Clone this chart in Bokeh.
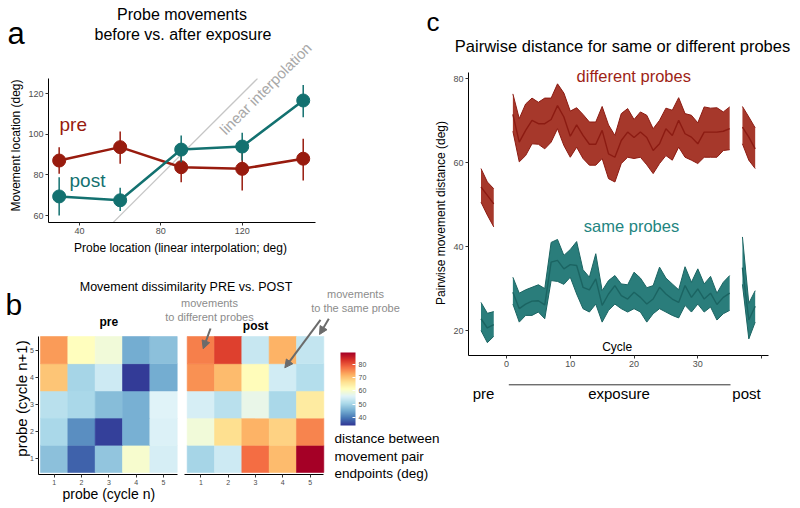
from bokeh.plotting import figure
from bokeh.models import (Label, Arrow, NormalHead, ColorBar, LinearColorMapper, LinearAxis,
                          FixedTicker, ColumnDataSource, Range1d, CustomJSTickFormatter)
from bokeh.embed import file_html
from bokeh.resources import INLINE

FONT = "Liberation Sans"
RED = "#981b0e"
TEAL = "#137170"

# ---------------- panel a data ----------------
probe_loc = [30, 60, 90, 120, 150]
pre_mean = [87.1, 93.7, 83.8, 83.0, 88.0]
pre_lo = [80.6, 85.5, 76.4, 72.3, 77.3]
pre_hi = [93.7, 101.4, 91.0, 91.2, 97.8]
post_mean = [69.4, 67.5, 92.5, 94.0, 116.7]
post_lo = [60.0, 62.2, 86.3, 87.1, 108.5]
post_hi = [78.9, 73.7, 99.4, 100.8, 124.4]
identity_xy = [56.6, 127.5]
a_xticks = [40, 80, 120]
a_yticks = [60, 80, 100, 120]

# ---------------- panel b data ----------------
probes = [1, 2, 3, 4, 5]
# rows: probe (cycle n+1) = 1..5 ; columns: probe (cycle n) = 1..5
pre_dist = [
    [47.5, 38.0, 48.0, 60.0, 55.0],
    [50.5, 42.0, 35.0, 45.5, 55.5],
    [52.0, 50.5, 47.0, 45.5, 56.0],
    [70.0, 50.0, 54.0, 34.5, 45.0],
    [74.0, 61.5, 59.0, 45.0, 47.5],
]
post_dist = [
    [50.0, 54.0, 78.0, 71.0, 89.0],
    [59.0, 67.0, 72.0, 68.5, 76.0],
    [55.0, 52.0, 57.5, 50.5, 65.0],
    [75.0, 71.0, 62.0, 54.5, 51.5],
    [76.5, 82.0, 53.5, 72.0, 53.0],
]
dist_low, dist_high = 34, 89
cbar_ticks = [40, 50, 60, 70, 80]

# ---------------- panel c data ----------------
pre_cycles = [-4, -3, -2]
exp_cycles = list(range(1, 36))
post_cycles = [37, 38, 39]
c_xticks = [0, 10, 20, 30, 40]
c_yticks = [20, 40, 60, 80]

diff_pre_hi = [58.6, 55.4, 53.8]
diff_pre_mean = [54.2, 52.2, 50.2]
diff_pre_lo = [50.6, 47.5, 44.7]
diff_exp_hi = [76.4, 70.5, 74.0, 75.4, 74.4, 75.4, 75.4, 78.8, 76.6, 72.3, 73.1, 71.5, 69.7, 69.7, 73.4,
               69.0, 66.5, 71.7, 72.9, 70.3, 72.1, 71.3, 68.1, 70.1, 73.0, 72.5, 75.5, 71.7, 71.3, 69.5,
               73.3, 73.0, 73.1, 72.1, 73.3]
diff_exp_mean = [71.5, 64.9, 67.7, 70.1, 69.3, 69.3, 70.3, 73.6, 70.9, 66.3, 69.0, 66.5, 64.4, 64.4, 67.7,
                 62.1, 61.3, 65.3, 67.3, 66.0, 67.3, 66.0, 62.9, 64.5, 68.1, 66.5, 70.1, 66.9, 66.1, 64.5,
                 67.3, 67.3, 67.3, 67.5, 68.1]
diff_exp_lo = [67.5, 60.2, 61.7, 64.5, 64.4, 63.3, 64.9, 68.1, 64.1, 61.3, 63.7, 61.0, 59.4, 59.4, 61.0,
               56.2, 55.4, 59.8, 61.3, 61.0, 61.3, 59.5, 57.4, 59.8, 61.7, 60.6, 63.7, 61.3, 60.6, 59.8,
               61.3, 61.3, 61.3, 62.9, 63.1]
diff_post_hi = [73.4, 70.9, 68.3]
diff_post_mean = [68.5, 66.1, 63.3]
diff_post_lo = [64.5, 60.6, 58.6]

same_pre_hi = [26.7, 24.1, 24.5]
same_pre_mean = [22.8, 20.6, 21.4]
same_pre_lo = [20.0, 17.1, 18.6]
same_exp_hi = [32.7, 28.9, 29.7, 30.3, 30.9, 30.0, 41.0, 41.7, 37.9, 39.3, 41.2, 34.5, 32.7, 38.3, 29.5,
               31.9, 33.1, 31.1, 30.9, 33.9, 32.5, 30.2, 30.7, 35.1, 32.5, 31.1, 29.7, 35.2, 31.5, 34.7,
               31.1, 32.9, 28.9, 31.5, 33.1]
same_exp_mean = [29.1, 25.2, 26.3, 27.0, 27.1, 26.1, 36.3, 36.7, 34.7, 35.7, 35.5, 30.3, 29.7, 32.3, 26.0,
                 28.7, 30.7, 28.3, 27.5, 29.1, 27.9, 26.3, 27.5, 30.3, 28.7, 27.5, 26.7, 30.7, 27.9, 29.9,
                 27.5, 28.9, 26.2, 27.9, 28.9]
same_exp_lo = [26.3, 22.0, 23.6, 23.6, 24.4, 22.8, 31.9, 31.7, 31.0, 32.7, 28.7, 25.2, 24.4, 26.3, 22.0,
               24.8, 26.3, 25.2, 24.4, 25.2, 24.4, 22.0, 24.0, 25.2, 24.4, 23.6, 23.0, 26.0, 24.4, 26.3,
               24.4, 25.6, 22.5, 24.0, 24.8]
same_post_hi = [42.3, 26.5, 29.5]
same_post_mean = [35.0, 22.5, 25.8]
same_post_lo = [31.0, 18.0, 22.0]

# ---------------- page geometry (pixels) ----------------
W, H = 800, 508
# calibration: (pixel, value, pixel, value) for each panel scale
A_X = (79.0, 40, 241.7, 120)
A_Y = (215.0, 60, 93.3, 120)
B_XPRE = (40.0, 0.5, 176.7, 5.5)
B_XPOST = (186.7, 0.5, 323.3, 5.5)
B_Y = (472.0, 0.5, 336.0, 5.5)
C_X = (506.0, 0, 697.3, 30)
C_Y = (330.0, 20, 78.3, 80)


def conv(cal, pix):
    p0, v0, p1, v1 = cal
    return v0 + (pix - p0) * (v1 - v0) / (p1 - p0)


def xrange_of(cal):
    return Range1d(conv(cal, 0), conv(cal, W))


def yrange_of(cal):
    return Range1d(conv(cal, H), conv(cal, 0))


p = figure(width=W, height=H, x_range=Range1d(0, W), y_range=Range1d(H, 0),
           x_axis_location=None, y_axis_location=None, min_border=0,
           output_backend="svg", toolbar_location=None)
p.grid.visible = False
p.outline_line_color = None
p.background_fill_color = "white"
p.border_fill_color = "white"
p.extra_x_ranges = {"ax": xrange_of(A_X), "bxpre": xrange_of(B_XPRE),
                    "bxpost": xrange_of(B_XPOST), "cx": xrange_of(C_X)}
p.extra_y_ranges = {"ay": yrange_of(A_Y), "by": yrange_of(B_Y), "cy": yrange_of(C_Y)}


def add_axis(side, xname, yname, fixed, bounds, ticks, size="9px", formatter=None):
    ax = LinearAxis(x_range_name=xname, y_range_name=yname, fixed_location=fixed, bounds=bounds,
                    ticker=FixedTicker(ticks=ticks))
    if formatter is not None:
        ax.formatter = formatter
    ax.axis_line_color = "black"
    ax.axis_line_width = 1
    ax.major_tick_line_color = "#333333"
    ax.major_tick_out = 3
    ax.major_tick_in = 0
    ax.minor_tick_line_color = None
    ax.major_label_text_font = FONT
    ax.major_label_text_font_size = size
    ax.major_label_text_color = "#4d4d4d"
    ax.major_label_standoff = 2
    p.add_layout(ax, side)


def add_label(x, y, text, size, color="black", align="left", baseline="middle",
              angle=0, style="normal"):
    p.add_layout(Label(x=x, y=y, text=text, text_font=FONT, text_font_size=size,
                       text_color=color, text_align=align, text_baseline=baseline,
                       angle=angle, angle_units="deg", text_font_style=style))


# ================= panel a =================
add_axis("left", "ax", "ay", conv(A_X, 48), (conv(A_Y, 222), conv(A_Y, 78)), a_yticks)
add_axis("below", "ax", "ay", conv(A_Y, 222), (conv(A_X, 48), conv(A_X, 315)), a_xticks)

ra = dict(x_range_name="ax", y_range_name="ay")
p.line(identity_xy, identity_xy, line_color="#c6c6c6", line_width=1.3, **ra)
src_a = ColumnDataSource(dict(x=probe_loc, pm=pre_mean, plo=pre_lo, phi=pre_hi,
                              qm=post_mean, qlo=post_lo, qhi=post_hi))
p.line("x", "pm", source=src_a, line_color=RED, line_width=2.5, **ra)
p.segment("x", "plo", "x", "phi", source=src_a, line_color=RED, line_width=1.5, **ra)
p.scatter("x", "pm", source=src_a, size=13, fill_color=RED, line_color=RED, **ra)
p.line("x", "qm", source=src_a, line_color=TEAL, line_width=2.5, **ra)
p.segment("x", "qlo", "x", "qhi", source=src_a, line_color=TEAL, line_width=1.5, **ra)
p.scatter("x", "qm", source=src_a, size=13, fill_color=TEAL, line_color=TEAL, **ra)

add_label(7, 33, "a", "31px")
add_label(181.5, 14.3, "Probe movements", "16px", align="center")
add_label(182.5, 33.5, "before vs. after exposure", "16px", align="center")
add_label(59, 123.5, "pre", "19px", color=RED)
add_label(69, 180, "post", "19px", color=TEAL)
add_label(265, 88, "linear interpolation", "15px", color="#a8a8a8", align="center", angle=45)
add_label(15, 145, "Movement location (deg)", "12px", align="center", angle=90)
add_label(180, 247, "Probe location (linear interpolation; deg)", "12px", align="center")

# ================= panel b =================
base_pal = ["#313695", "#4575b4", "#74add1", "#abd9e9", "#e0f3f8", "#ffffbf",
            "#fee090", "#fdae61", "#f46d43", "#d73027", "#a50026"]


def _rgb(h):
    return [int(h[i:i + 2], 16) for i in (1, 3, 5)]


palette = []
for i in range(256):
    t = i / 255 * (len(base_pal) - 1)
    k = min(int(t), len(base_pal) - 2)
    f = t - k
    c1, c2 = _rgb(base_pal[k]), _rgb(base_pal[k + 1])
    palette.append("#%02x%02x%02x" % tuple(round(c1[j] + (c2[j] - c1[j]) * f) for j in range(3)))

mapper = LinearColorMapper(palette=palette, low=dist_low, high=dist_high)


def heat_source(mat):
    xs, ys, vs = [], [], []
    for ri, r in enumerate(probes):
        for ci, c in enumerate(probes):
            xs.append(c)
            ys.append(r)
            vs.append(mat[ri][ci])
    return ColumnDataSource(dict(x=xs, y=ys, v=vs))


cmap = {"field": "v", "transform": mapper}
p.rect("x", "y", width=1, height=1, source=heat_source(pre_dist), fill_color=cmap,
       line_color=cmap, line_width=0.6, x_range_name="bxpre", y_range_name="by")
p.rect("x", "y", width=1, height=1, source=heat_source(post_dist), fill_color=cmap,
       line_color=cmap, line_width=0.6, x_range_name="bxpost", y_range_name="by")

add_axis("left", "bxpre", "by", conv(B_XPRE, 38.3), (conv(B_Y, 474.3), conv(B_Y, 336)), probes, size="7px")
add_axis("below", "bxpre", "by", conv(B_Y, 474.3), (conv(B_XPRE, 38.3), conv(B_XPRE, 176.7)), probes, size="7px")
add_axis("below", "bxpost", "by", conv(B_Y, 474.3), (conv(B_XPOST, 184.3), conv(B_XPOST, 323.3)), probes, size="7px")

cb = ColorBar(color_mapper=mapper, width=15, height=73, location=(340, H - 425), margin=0, padding=0,
              ticker=FixedTicker(ticks=cbar_ticks), major_label_text_font=FONT,
              major_label_text_font_size="7px", major_label_text_color="#4d4d4d",
              major_tick_line_color="white", major_tick_in=3, major_tick_out=0,
              label_standoff=3, bar_line_color=None, border_line_color=None,
              background_fill_color=None)
p.add_layout(cb, "center")

GRAY_T = "#8c8c8c"
GRAY_A = "#6b6b6b"
add_label(185.5, 286, "Movement dissimilarity PRE vs. POST", "12.5px", align="center")
add_label(5, 303.5, "b", "30px")
add_label(108.3, 321.5, "pre", "12px", align="center", style="bold")
add_label(255, 325.5, "post", "12px", align="center", style="bold")
add_label(209, 302.7, "movements", "11px", color=GRAY_T, align="center")
add_label(209, 316.7, "to different probes", "11px", color=GRAY_T, align="center")
add_label(355, 293.3, "movements", "11px", color=GRAY_T, align="center")
add_label(355, 307.7, "to the same probe", "11px", color=GRAY_T, align="center")
add_label(334, 438, "distance between", "13.5px")
add_label(334, 456, "movement pair", "13.5px")
add_label(334, 473, "endpoints (deg)", "13.5px")
add_label(108.3, 493, "probe (cycle n)", "14px", align="center")
add_label(21, 398, "probe (cycle n+1)", "15px", align="center", angle=90)

for xs, ys, xe, ye in [(210, 328, 202.7, 348.3), (320, 319.3, 284.3, 367.3), (328.3, 318.3, 319, 334)]:
    p.add_layout(Arrow(end=NormalHead(size=8, fill_color=GRAY_A, line_color=GRAY_A),
                       x_start=xs, y_start=ys, x_end=xe, y_end=ye,
                       line_color=GRAY_A, line_width=2))

# ================= panel c =================
add_axis("left", "cx", "cy", conv(C_X, 468), (conv(C_Y, 355), conv(C_Y, 72)), c_yticks)
add_axis("below", "cx", "cy", conv(C_Y, 355), (conv(C_X, 468), conv(C_X, 768)), c_xticks,
         formatter=CustomJSTickFormatter(code="return tick >= 40 ? '' : tick.toFixed(0);"))

RED_FILL, RED_LINE = "#a6382b", "#8c1b12"
TEAL_FILL, TEAL_LINE = "#2a7d7b", "#1b6462"


def band(x, lo, mean, hi, fill, line):
    rc = dict(x_range_name="cx", y_range_name="cy")
    p.varea(x=x, y1=lo, y2=hi, fill_color=fill, **rc)
    p.line(x, hi, line_color=line, line_width=1, **rc)
    p.line(x, lo, line_color=line, line_width=1, **rc)
    p.line(x, mean, line_color=line, line_width=1.4, **rc)


band(pre_cycles, diff_pre_lo, diff_pre_mean, diff_pre_hi, RED_FILL, RED_LINE)
band(exp_cycles, diff_exp_lo, diff_exp_mean, diff_exp_hi, RED_FILL, RED_LINE)
band(post_cycles, diff_post_lo, diff_post_mean, diff_post_hi, RED_FILL, RED_LINE)
band(pre_cycles, same_pre_lo, same_pre_mean, same_pre_hi, TEAL_FILL, TEAL_LINE)
band(exp_cycles, same_exp_lo, same_exp_mean, same_exp_hi, TEAL_FILL, TEAL_LINE)
band(post_cycles, same_post_lo, same_post_mean, same_post_hi, TEAL_FILL, TEAL_LINE)

add_label(426, 21.7, "c", "26px")
add_label(622, 45.5, "Pairwise distance for same or different probes", "16.5px", align="center")
add_label(440, 212.5, "Pairwise movement distance (deg)", "12px", align="center", angle=90)
add_label(633.3, 75.5, "different probes", "16.5px", color="#9e1f16", align="center")
add_label(631, 225.5, "same probes", "16.5px", color="#23857f", align="center")
add_label(616.7, 346, "Cycle", "12px", align="center")
add_label(483, 392.5, "pre", "15px", align="center")
add_label(618.5, 392.5, "exposure", "15px", align="center")
add_label(746, 392.5, "post", "15px", align="center")
p.add_layout(Arrow(end=None, x_start=508.3, y_start=384.3, x_end=730, y_end=384.3,
                   line_color="#333333", line_width=1))

open("out.html", "w").write(file_html(p, INLINE))
